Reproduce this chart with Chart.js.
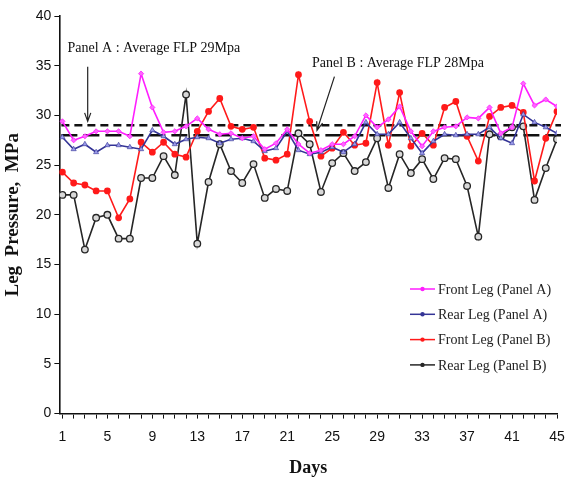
<!DOCTYPE html>
<html>
<head>
<meta charset="utf-8">
<script src="https://cdn.jsdelivr.net/npm/chart.js@4/dist/chart.umd.min.js"></script>
<style>
  body { margin: 0; background: #fff; }
  #wrap { width: 567px; height: 480px; }
</style>
</head>
<body>
<div id="wrap"><canvas id="legChart"></canvas></div>
<script>
const days = [1, 2, 3, 4, 5, 6, 7, 8, 9, 10, 11, 12, 13, 14, 15, 16, 17, 18, 19, 20, 21, 22, 23,
  24, 25, 26, 27, 28, 29, 30, 31, 32, 33, 34, 35, 36, 37, 38, 39, 40, 41, 42, 43, 44, 45];

const frontA = [29.4, 27.5, 27.9, 28.4, 28.4, 28.4, 27.9, 34.2, 30.8, 28.3, 28.4, 28.9, 29.7, 28.6, 28.1,
  28.2, 27.7, 27.9, 26.6, 27.2, 28.6, 27.1, 26.2, 26.5, 27.1, 27.1, 27.9, 30.0, 28.8, 29.6, 30.9, 28.4,
  26.9, 28.4, 28.8, 28.9, 29.8, 29.7, 30.8, 28.2, 28.8, 33.2, 31.0, 31.6, 30.9];
const rearA = [27.8, 26.6, 27.1, 26.3, 27.0, 27.0, 26.8, 26.6, 28.5, 27.9, 27.1, 27.6, 27.8, 27.7, 27.2,
  27.6, 27.7, 27.4, 26.4, 26.7, 28.4, 26.5, 26.1, 26.3, 26.8, 26.3, 27.1, 29.3, 28.1, 28.1, 29.3, 27.7,
  26.2, 27.4, 28.1, 28.0, 28.1, 28.1, 28.8, 27.7, 27.2, 30.1, 29.3, 28.8, 28.2];
const frontB = [24.3, 23.2, 23.0, 22.4, 22.4, 19.7, 21.6, 27.3, 26.3, 27.3, 26.1, 25.8, 28.4, 30.4, 31.7,
  28.9, 28.6, 28.8, 25.7, 25.5, 26.1, 34.1, 29.4, 25.9, 26.7, 28.3, 27.0, 27.2, 33.3, 27.0, 32.3, 26.9,
  28.2, 27.0, 30.8, 31.4, 27.9, 25.4, 29.9, 30.8, 31.0, 30.3, 23.4, 27.7, 30.4];
const rearB = [22.0, 22.0, 16.5, 19.7, 20.0, 17.6, 17.6, 23.7, 23.7, 25.9, 24.0, 32.1, 17.1, 23.3, 27.1,
  24.4, 23.2, 25.1, 21.7, 22.6, 22.4, 28.2, 27.1, 22.3, 25.2, 26.2, 24.4, 25.3, 27.7, 22.7, 26.1, 24.2,
  25.6, 23.6, 25.7, 25.6, 22.9, 17.8, 28.1, 27.9, 28.8, 28.9, 21.5, 24.7, 27.6];

const seriesNames = ['Front Leg (Panel A)', 'Rear Leg (Panel A)', 'Front Leg (Panel B)', 'Rear Leg (Panel B)'];
const yTicks = [0, 5, 10, 15, 20, 25, 30, 35, 40];
const averageA = 29;
const averageB = 28;

const serif = '"Liberation Serif", "Times New Roman", serif';
const narrow = '"Liberation Sans Narrow", "Liberation Sans", Arial, sans-serif';

// dashed average lines, arrows and panel notes
const notesPlugin = {
  id: 'notes',
  beforeDatasetsDraw(chart) {
    const { ctx, chartArea, scales: { x, y } } = chart;
    ctx.save();
    ctx.strokeStyle = '#111';
    ctx.lineWidth = 2.5;
    ctx.setLineDash([8, 5]);
    ctx.beginPath();
    ctx.moveTo(chartArea.left + 2, y.getPixelForValue(averageA));
    ctx.lineTo(chartArea.right + 4, y.getPixelForValue(averageA));
    ctx.stroke();
    ctx.setLineDash([16, 6]);
    ctx.beginPath();
    ctx.moveTo(chartArea.left + 2, y.getPixelForValue(averageB));
    ctx.lineTo(chartArea.right + 4, y.getPixelForValue(averageB));
    ctx.stroke();
    ctx.restore();
  },
  afterDatasetsDraw(chart) {
    const { ctx, scales: { x, y } } = chart;
    const arrow = (x0, y0, x1, y1) => {
      const px0 = x.getPixelForValue(x0), py0 = y.getPixelForValue(y0);
      const px1 = x.getPixelForValue(x1), py1 = y.getPixelForValue(y1);
      const a = Math.atan2(py1 - py0, px1 - px0);
      ctx.beginPath();
      ctx.moveTo(px0, py0);
      ctx.lineTo(px1, py1);
      ctx.moveTo(px1 - 9 * Math.cos(a - 0.35), py1 - 9 * Math.sin(a - 0.35));
      ctx.lineTo(px1, py1);
      ctx.lineTo(px1 - 9 * Math.cos(a + 0.35), py1 - 9 * Math.sin(a + 0.35));
      ctx.stroke();
    };
    ctx.save();
    ctx.strokeStyle = '#222';
    ctx.lineWidth = 1.2;
    arrow(3.25, 34.9, 3.25, 29.4);
    arrow(25.2, 33.9, 23.65, 28.5);
    ctx.fillStyle = '#111';
    ctx.font = '14px ' + serif;
    ctx.textBaseline = 'middle';
    ctx.fillText('Panel A : Average FLP 29Mpa', x.getPixelForValue(1.45), y.getPixelForValue(36.7));
    ctx.fillText('Panel B : Average FLP 28Mpa', x.getPixelForValue(23.2), y.getPixelForValue(35.2));
    ctx.restore();
  }
};

// legend with line + marker samples, placed inside the plot
const legendPlugin = {
  id: 'sideLegend',
  afterDraw(chart) {
    const { ctx } = chart;
    const left = 410, top = 289, rowH = 25.3;
    ctx.save();
    ctx.font = '14px ' + serif;
    ctx.textBaseline = 'middle';
    chart.data.datasets.forEach((ds, i) => {
      const yy = top + i * rowH;
      ctx.strokeStyle = ds.borderColor;
      ctx.lineWidth = 1.5;
      ctx.beginPath();
      ctx.moveTo(left, yy);
      ctx.lineTo(left + 25, yy);
      ctx.stroke();
      ctx.fillStyle = ds.borderColor;
      ctx.beginPath();
      ctx.arc(left + 12.5, yy, 2.2, 0, Math.PI * 2);
      ctx.fill();
      ctx.fillStyle = '#222';
      ctx.fillText(ds.label, left + 28, yy + 1);
    });
    ctx.restore();
  }
};

new Chart(document.getElementById('legChart'), {
  type: 'line',
  data: {
    datasets: [
      {
        label: seriesNames[0],
        data: days.map((d, i) => ({ x: d, y: frontA[i] })),
        borderColor: '#ff1eff',
        backgroundColor: '#ff66ff',
        borderWidth: 1.6,
        pointStyle: 'rectRot',
        pointRadius: 2.6,
        pointBorderWidth: 0.8
      },
      {
        label: seriesNames[1],
        data: days.map((d, i) => ({ x: d, y: rearA[i] })),
        borderColor: '#343496',
        backgroundColor: '#9a9ae8',
        borderWidth: 1.6,
        pointStyle: 'triangle',
        pointRadius: 3,
        pointBorderWidth: 0.6
      },
      {
        label: seriesNames[2],
        data: days.map((d, i) => ({ x: d, y: frontB[i] })),
        borderColor: '#ff1a1a',
        backgroundColor: '#ff1a1a',
        borderWidth: 1.6,
        pointStyle: 'circle',
        pointRadius: 2.6
      },
      {
        label: seriesNames[3],
        data: days.map((d, i) => ({ x: d, y: rearB[i] })),
        borderColor: '#262626',
        backgroundColor: '#d8d8d8',
        borderWidth: 1.6,
        pointStyle: 'circle',
        pointRadius: 3.3,
        pointBorderWidth: 1.3
      }
    ]
  },
  options: {
    responsive: true,
    maintainAspectRatio: false,
    animation: false,
    layout: { padding: { top: 16, right: 4, left: 2, bottom: 1 } },
    plugins: {
      legend: { display: false },
      tooltip: { enabled: false }
    },
    scales: {
      x: {
        type: 'linear',
        min: 0.73,
        max: 45,
        afterBuildTicks: (scale) => { scale.ticks = days.map(v => ({ value: v })); },
        afterFit: (scale) => { scale.paddingRight = 10; },
        ticks: {
          autoSkip: false,
          maxRotation: 0,
          padding: 10,
          color: '#111',
          font: { family: narrow, size: 14 },
          callback: (v) => ((v - 1) % 4 === 0 ? v : '')
        },
        grid: { drawOnChartArea: false, drawTicks: true, tickLength: 5, color: '#111', lineWidth: 1 },
        border: { display: true, color: '#111', width: 1.6 },
        title: {
          display: true,
          text: 'Days',
          color: '#111',
          padding: { top: 2, bottom: 0 },
          font: { family: serif, size: 18, weight: 'bold' }
        }
      },
      y: {
        min: 0,
        max: 40,
        afterBuildTicks: (scale) => { scale.ticks = yTicks.map(v => ({ value: v })); },
        ticks: {
          padding: 3,
          color: '#111',
          font: { family: narrow, size: 14 }
        },
        grid: { drawOnChartArea: false, drawTicks: true, tickLength: 5, color: '#111', lineWidth: 1 },
        border: { display: true, color: '#111', width: 1.6 },
        title: {
          display: true,
          text: 'Leg  Pressure,  MPa',
          color: '#111',
          padding: { top: 0, bottom: 8 },
          font: { family: serif, size: 19, weight: 'bold' }
        }
      }
    }
  },
  plugins: [notesPlugin, legendPlugin]
});
</script>
</body>
</html>
